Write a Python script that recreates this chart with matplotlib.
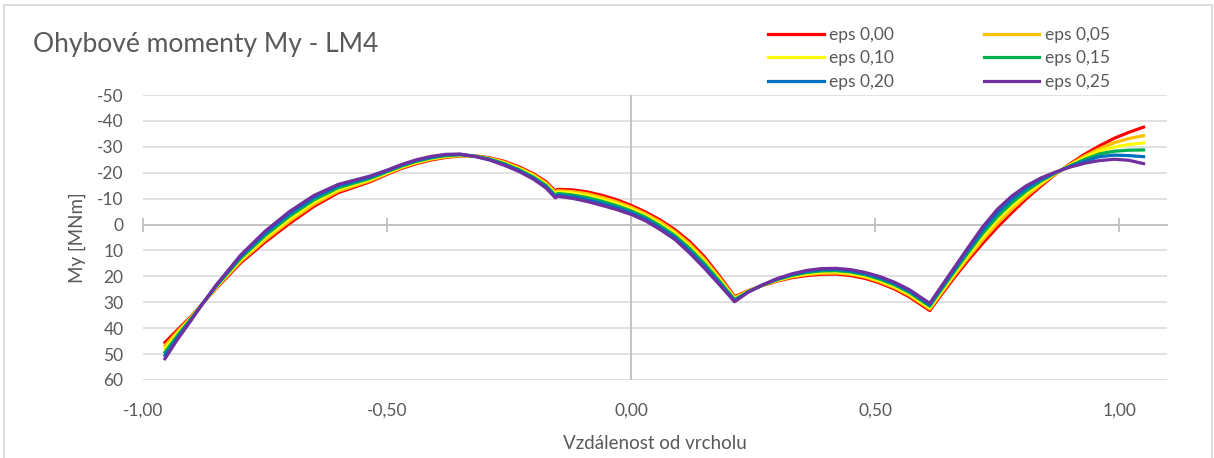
import matplotlib.pyplot as plt
from matplotlib.lines import Line2D
from matplotlib.ticker import FuncFormatter

plt.rcParams['font.family'] = ['Lato', 'DejaVu Sans']
plt.rcParams['axes.unicode_minus'] = False

# vzdalenost od vrcholu
x = [-0.955, -0.93, -0.9, -0.877, -0.85, -0.8, -0.75, -0.7, -0.65, -0.6, -0.535,
     -0.5, -0.47, -0.44, -0.41, -0.38, -0.35, -0.32, -0.29, -0.26, -0.23, -0.2, -0.175, -0.155,
     -0.15, -0.12, -0.09, -0.06, -0.03, 0.0, 0.03, 0.06, 0.09, 0.12, 0.15, 0.18, 0.212,
     0.24, 0.27, 0.30, 0.33, 0.36, 0.39, 0.42, 0.45, 0.48, 0.51, 0.54, 0.57, 0.612,
     0.63, 0.66, 0.69, 0.72, 0.75, 0.78, 0.81, 0.84, 0.87, 0.9, 0.93, 0.96, 0.99, 1.02, 1.05]

eps_000 = [45.5, 40.8, 35.2, 30.3, 24.6, 14.8, 6.8, -0.4, -7.0, -12.3, -16.5,
           -19.4, -21.7, -23.5, -24.9, -25.9, -26.5, -26.5, -25.8, -24.4, -22.3, -19.6, -16.6, -12.9,
           -13.6, -13.4, -12.6, -11.3, -9.6, -7.4, -4.8, -1.7, 2.0, 6.6, 12.4, 19.6, 27.8,
           25.5, 23.5, 21.8, 20.5, 19.7, 19.2, 19.1, 19.7, 20.8, 22.6, 24.9, 27.9, 33.2,
           28.5, 21.0, 13.9, 7.3, 1.1, -4.6, -10.0, -14.9, -19.5, -23.5, -27.2, -30.4, -33.3, -35.6, -37.6]
eps_005 = [46.8, 41.5, 35.5, 30.3, 24.3, 14.2, 6.0, -1.3, -7.8, -12.9, -16.9,
           -19.7, -22.0, -23.8, -25.2, -26.1, -26.6, -26.5, -25.6, -24.1, -21.9, -19.2, -16.1, -12.4,
           -13.1, -12.7, -11.9, -10.5, -8.8, -6.7, -4.1, -1.0, 2.8, 7.5, 13.3, 20.3, 28.2,
           25.6, 23.4, 21.6, 20.2, 19.3, 18.8, 18.7, 19.2, 20.3, 22.1, 24.4, 27.3, 32.6,
           27.9, 20.2, 12.9, 6.0, -0.3, -5.9, -11.0, -15.5, -19.7, -23.2, -26.5, -29.3, -31.6, -33.2, -34.3]
eps_010 = [48.0, 42.3, 35.8, 30.3, 24.1, 13.6, 5.1, -2.2, -8.7, -13.6, -17.4,
           -20.0, -22.3, -24.1, -25.5, -26.4, -26.8, -26.4, -25.4, -23.8, -21.6, -18.8, -15.6, -11.9,
           -12.5, -12.1, -11.1, -9.7, -8.1, -6.0, -3.4, -0.2, 3.5, 8.4, 14.2, 21.0, 28.6,
           25.7, 23.4, 21.4, 19.9, 18.9, 18.3, 18.2, 18.8, 19.9, 21.6, 23.9, 26.8, 32.1,
           27.3, 19.5, 11.9, 4.8, -1.7, -7.2, -12.0, -16.1, -19.8, -23.0, -25.9, -28.4, -29.9, -30.9, -31.5]
eps_015 = [49.3, 43.0, 36.0, 30.3, 23.8, 13.0, 4.3, -3.2, -9.5, -14.2, -17.8,
           -20.4, -22.6, -24.4, -25.7, -26.6, -26.9, -26.4, -25.3, -23.5, -21.2, -18.3, -15.2, -11.3,
           -12.0, -11.4, -10.4, -9.0, -7.3, -5.3, -2.8, 0.5, 4.3, 9.2, 15.0, 21.6, 29.0,
           25.9, 23.3, 21.2, 19.6, 18.5, 17.9, 17.8, 18.3, 19.4, 21.1, 23.3, 26.2, 31.5,
           26.6, 18.7, 11.0, 3.5, -3.0, -8.4, -13.0, -16.8, -20.0, -22.7, -25.2, -27.3, -28.3, -28.7, -28.8]
eps_020 = [50.5, 43.8, 36.3, 30.3, 23.6, 12.4, 3.4, -4.1, -10.4, -14.9, -18.3,
           -20.7, -22.9, -24.7, -26.0, -26.9, -27.1, -26.3, -25.1, -23.2, -20.9, -17.9, -14.7, -10.8,
           -11.4, -10.8, -9.6, -8.2, -6.6, -4.6, -2.1, 1.3, 5.0, 10.1, 15.9, 22.3, 29.4,
           26.0, 23.3, 21.0, 19.3, 18.1, 17.4, 17.3, 17.9, 19.0, 20.6, 22.8, 25.7, 31.0,
           26.0, 18.0, 10.0, 2.3, -4.4, -9.7, -14.0, -17.4, -20.1, -22.5, -24.5, -26.2, -26.8, -26.6, -26.2]
eps_025 = [51.8, 44.5, 36.6, 30.3, 23.3, 11.8, 2.6, -5.0, -11.2, -15.5, -18.7,
           -21.0, -23.2, -25.0, -26.3, -27.1, -27.2, -26.3, -24.9, -22.9, -20.5, -17.5, -14.2, -10.3,
           -10.9, -10.1, -8.9, -7.4, -5.8, -3.9, -1.4, 2.0, 5.8, 11.0, 16.8, 23.0, 29.8,
           26.1, 23.2, 20.8, 19.0, 17.7, 17.0, 16.9, 17.4, 18.5, 20.1, 22.3, 25.1, 30.4,
           25.4, 17.2, 9.0, 1.0, -5.8, -11.0, -15.0, -18.0, -20.3, -22.2, -23.7, -24.7, -25.2, -24.8, -23.5]

labels = ['eps 0,00', 'eps 0,05', 'eps 0,10', 'eps 0,15', 'eps 0,20', 'eps 0,25']
series = [eps_000, eps_005, eps_010, eps_015, eps_020, eps_025]
colors = ['#FF0000', '#FFC000', '#FFFF00', '#00B050', '#0070C0', '#7030A0']

text_col = '#595959'

fig = plt.figure(figsize=(12.14, 4.58), dpi=100)
ax = fig.add_axes([143 / 1214, 1 - 380 / 458, (1167 - 143) / 1214, (380 - 95) / 458])

lines = []
for y, c, lab in zip(series, colors, labels):
    ln, = ax.plot(x, y, color=c, lw=2.3, label=lab, solid_joinstyle='round', zorder=3)
    lines.append(ln)

ax.set_xlim(-1.0, 1.098)
ax.set_ylim(60, -50)
ax.set_yticks(range(-50, 61, 10))
ax.yaxis.grid(True, color='#d9d9d9', lw=1.1)
ax.set_axisbelow(True)

for s in ['top', 'right', 'left']:
    ax.spines[s].set_visible(False)
ax.spines['bottom'].set_position(('data', 0))
ax.spines['bottom'].set_color('#bfbfbf')
ax.spines['bottom'].set_linewidth(1.3)
ax.axvline(0, color='#bfbfbf', lw=1.3, zorder=2)

ax.set_xticks([-1.0, -0.5, 0.0, 0.5, 1.0])
ax.tick_params(axis='x', direction='inout', length=10, width=1.3,
               color='#bfbfbf', labelbottom=False)
ax.tick_params(axis='y', length=0, pad=14, labelsize=12.5, labelcolor=text_col)

sec = ax.secondary_xaxis('bottom')
sec.set_xticks([-1.0, -0.5, 0.0, 0.5, 1.0])
sec.xaxis.set_major_formatter(FuncFormatter(lambda v, p: f'{v:.2f}'.replace('.', ',')))
sec.tick_params(length=0, pad=16, labelsize=12.5, labelcolor=text_col)
for s in sec.spines.values():
    s.set_visible(False)
sec.set_xlabel('Vzdálenost od vrcholu', fontsize=13.5, color=text_col, labelpad=12)

ax.set_ylabel('My [MNm]', fontsize=13.5, color=text_col, labelpad=8)

fig.text(33 / 1214, 1 - 52 / 458, 'Ohybové momenty My - LM4', fontsize=19,
         color=text_col, va='baseline', ha='left')

# legend is filled row by row in the reference
order = [0, 2, 4, 1, 3, 5]
leg = fig.legend(handles=[lines[i] for i in order], labels=[labels[i] for i in order],
                 ncol=2, loc='upper left', bbox_to_anchor=(768 / 1214, 1 - 27 / 458),
                 frameon=False, fontsize=12.5, handlelength=3.2, handletextpad=0.3,
                 columnspacing=5.2, labelspacing=0.42, borderpad=0, borderaxespad=0)
for t in leg.get_texts():
    t.set_color(text_col)

# chart frame
border = '#d9d9d9'
fig.add_artist(Line2D([3.5 / 1214, 3.5 / 1214], [0, 1 - 5 / 458], color=border, lw=1.3))
fig.add_artist(Line2D([3.5 / 1214, 1211.5 / 1214], [1 - 5 / 458, 1 - 5 / 458], color=border, lw=1.3))
fig.add_artist(Line2D([1211.5 / 1214, 1211.5 / 1214], [0, 1 - 5 / 458], color=border, lw=1.3))

fig.savefig('out.png', dpi=100)
